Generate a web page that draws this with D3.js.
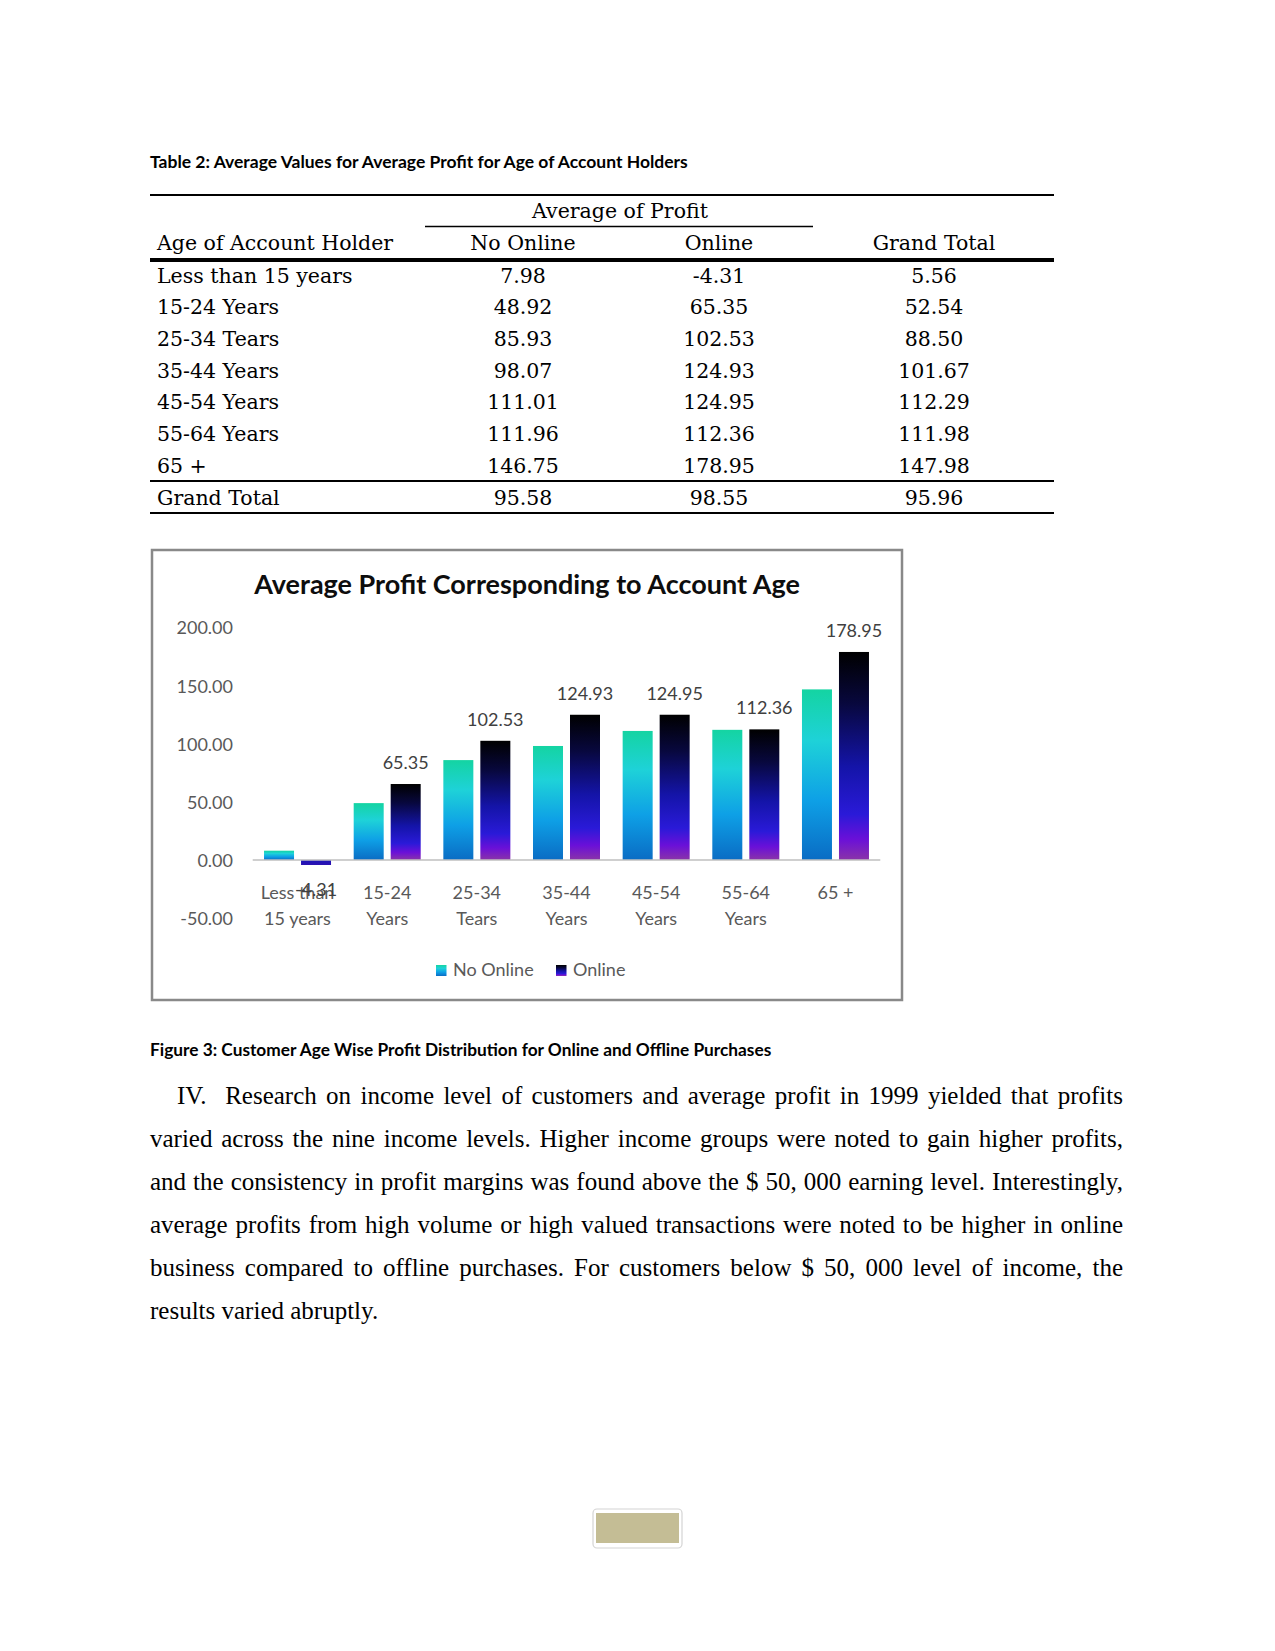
<!DOCTYPE html>
<html>
<head>
<meta charset="utf-8">
<script src="https://cdn.jsdelivr.net/npm/d3@7"></script>
<style>
  html, body { margin: 0; padding: 0; background: #fff; }
  #page { position: relative; width: 1275px; height: 1651px; overflow: hidden; }
  svg { position: absolute; left: 0; top: 0; }
  .para { position: absolute; left: 150px; top: 1074px; width: 973px;
          font-family: "Liberation Serif", "Times New Roman", serif; font-size: 25px;
          line-height: 43.1px; color: #000; }
  .para div { text-align: justify; text-align-last: justify; white-space: normal; }
  .para div.last { text-align-last: left; }
</style>
</head>
<body>
<div id="page"></div>
<script>
// --- data ---
const ageGroups = ['Less than 15 years', '15-24 Years', '25-34 Tears', '35-44 Years',
  '45-54 Years', '55-64 Years', '65 +'];
const noOnline = [7.98, 48.92, 85.93, 98.07, 111.01, 111.96, 146.75];
const online = [-4.31, 65.35, 102.53, 124.93, 124.95, 112.36, 178.95];
const grandTotal = [5.56, 52.54, 88.50, 101.67, 112.29, 111.98, 147.98];
const totalsRow = ['Grand Total', 95.58, 98.55, 95.96];

const chartLabels = [['Less than', '15 years'], ['15-24', 'Years'], ['25-34', 'Tears'],
  ['35-44', 'Years'], ['45-54', 'Years'], ['55-64', 'Years'], ['65 +']];
const seriesNames = ['No Online', 'Online'];
const yTicks = [-50, 0, 50, 100, 150, 200];

const paragraphLines = [
  'IV.\u00a0 Research on income level of customers and average profit in 1999 yielded that profits',
  'varied across the nine income levels. Higher income groups were noted to gain higher profits,',
  'and the consistency in profit margins was found above the $ 50, 000 earning level. Interestingly,',
  'average profits from high volume or high valued transactions were noted to be higher in online',
  'business compared to offline purchases. For customers below $ 50, 000 level of income, the',
  'results varied abruptly.'
];

const page = d3.select('#page');
const svg = page.append('svg').attr('width', 1275).attr('height', 1651);
// plain hyphen for negatives, like the source document
const fmt = d3.formatLocale({ decimal: '.', thousands: ',', grouping: [3],
  currency: ['$', ''], minus: '-' }).format('.2f');

// --- table caption ---
svg.append('text')
  .attr('x', 150).attr('y', 168)
  .attr('font-family', 'Lato, sans-serif').attr('font-weight', 700).attr('font-size', 17.5)
  .text('Table 2: Average Values for Average Profit for Age of Account Holders');

// --- table ---
const serif = '"DejaVu Serif", serif';
const tbl = svg.append('g').attr('font-family', serif).attr('font-size', 20.5).attr('fill', '#000');
const colX = [157, 523, 719, 934];
const rule = (y, w, x1 = 150, x2 = 1054) => tbl.append('line')
  .attr('x1', x1).attr('x2', x2).attr('y1', y).attr('y2', y)
  .attr('stroke', '#000').attr('stroke-width', w);

rule(195, 2);
tbl.append('text').attr('x', 620).attr('y', 218).attr('text-anchor', 'middle').text('Average of Profit');
rule(226.5, 1.5, 425, 813);
tbl.append('text').attr('x', colX[0]).attr('y', 250).text('Age of Account Holder');
['No Online', 'Online', 'Grand Total'].forEach((h, i) => {
  tbl.append('text').attr('x', colX[i + 1]).attr('y', 250).attr('text-anchor', 'middle').text(h);
});
rule(260, 4);

const rowY = d3.scaleLinear().domain([0, 6]).range([282.5, 472.5]);
ageGroups.forEach((g, i) => {
  const y = rowY(i);
  tbl.append('text').attr('x', colX[0]).attr('y', y).text(g);
  [noOnline[i], online[i], grandTotal[i]].forEach((v, j) => {
    tbl.append('text').attr('x', colX[j + 1]).attr('y', y).attr('text-anchor', 'middle').text(fmt(v));
  });
});
rule(481, 2);
tbl.append('text').attr('x', colX[0]).attr('y', 505).text(totalsRow[0]);
totalsRow.slice(1).forEach((v, j) => {
  tbl.append('text').attr('x', colX[j + 1]).attr('y', 505).attr('text-anchor', 'middle').text(fmt(v));
});
rule(513, 2);

// --- chart ---
const defs = svg.append('defs');
const grad = (id, stops) => {
  const g = defs.append('linearGradient').attr('id', id)
    .attr('x1', 0).attr('y1', 0).attr('x2', 0).attr('y2', 1);
  stops.forEach(([o, c]) => g.append('stop').attr('offset', o).attr('stop-color', c));
};
grad('gNo', [[0, '#14d4a2'], [0.3, '#1ed2d8'], [0.65, '#0ea0e6'], [1, '#0a6cc4']]);
grad('gOn', [[0, '#000000'], [0.25, '#08083e'], [0.55, '#1414a8'], [0.78, '#2a1ad8'],
  [0.9, '#6a10d8'], [1, '#8a34a8']]);
grad('gOnNeg', [[0, '#1c14b8'], [1, '#2a10b0']]);

svg.append('rect').attr('x', 152).attr('y', 550).attr('width', 750).attr('height', 450)
  .attr('fill', '#fff').attr('stroke', '#898989').attr('stroke-width', 2.5);

const chart = svg.append('g').attr('font-family', 'Lato, sans-serif');

chart.append('text').attr('x', 527).attr('y', 594).attr('text-anchor', 'middle')
  .attr('font-weight', 700).attr('font-size', 27).attr('fill', '#0d0d0d')
  .text('Average Profit Corresponding to Account Age');

const x = d3.scaleBand().domain(d3.range(chartLabels.length)).range([252.7, 880.3]);
const xs = d3.scaleBand().domain(seriesNames)
  .range([x.bandwidth() / 2 - 33.5, x.bandwidth() / 2 + 33.5]).paddingInner(7 / 37);
const y = d3.scaleLinear().domain([-50, 200]).range([918.1, 627.5]);

// y axis labels
const yAxis = chart.append('g').attr('transform', 'translate(233,0)')
  .call(d3.axisLeft(y).tickValues(yTicks).tickFormat(fmt).tickSize(0).tickPadding(0));
yAxis.select('.domain').remove();
yAxis.selectAll('text').attr('font-family', 'Lato, sans-serif').attr('font-size', 18)
  .attr('fill', '#595959').attr('dy', '0.36em');

// bars
const series = [
  { name: 'No Online', values: noOnline, fill: 'url(#gNo)' },
  { name: 'Online', values: online, fill: 'url(#gOn)' }
];
series.forEach(s => {
  chart.append('g').selectAll('rect').data(s.values).join('rect')
    .attr('x', (d, i) => x(i) + xs(s.name))
    .attr('width', xs.bandwidth())
    .attr('y', d => y(Math.max(0, d)))
    .attr('height', d => Math.abs(y(d) - y(0)))
    .attr('fill', d => d < 0 ? 'url(#gOnNeg)' : s.fill);
});

// zero line
chart.append('line').attr('x1', x.range()[0]).attr('x2', x.range()[1])
  .attr('y1', y(0)).attr('y2', y(0)).attr('stroke', '#bfbfbf').attr('stroke-width', 1.5);

// category labels
chartLabels.forEach((lines, i) => {
  lines.forEach((t, k) => {
    chart.append('text').attr('x', x(i) + x.bandwidth() / 2).attr('y', 899 + k * 26)
      .attr('text-anchor', 'middle').attr('font-size', 18).attr('fill', '#595959').text(t);
  });
});

// data labels (Online)
chart.append('g').selectAll('text').data(online).join('text')
  .attr('x', (d, i) => x(i) + xs('Online') + xs.bandwidth() / 2)
  .attr('y', d => d < 0 ? y(d) + 31 : y(d) - 15)
  .attr('text-anchor', 'middle').attr('font-size', 18).attr('fill', '#404040')
  .text(fmt);

// legend
const legend = chart.append('g');
[[436, 453, 'gNo'], [556, 573, 'gOn']].forEach(([sx, tx, g], i) => {
  legend.append('rect').attr('x', sx).attr('y', 965).attr('width', 10.5).attr('height', 11)
    .attr('fill', `url(#${g})`);
  legend.append('text').attr('x', tx).attr('y', 976).attr('font-size', 18)
    .attr('fill', '#595959').text(seriesNames[i]);
});

// --- figure caption ---
svg.append('text')
  .attr('x', 150).attr('y', 1056)
  .attr('font-family', 'Lato, sans-serif').attr('font-weight', 700).attr('font-size', 17.3)
  .text('Figure 3: Customer Age Wise Profit Distribution for Online and Offline Purchases');

// --- paragraph ---
const para = page.append('div').attr('class', 'para');
paragraphLines.forEach((t, i) => {
  para.append('div').attr('class', i === paragraphLines.length - 1 ? 'last' : null)
    .style('padding-left', i === 0 ? '27px' : null).text(t);
});

// --- page number box ---
svg.append('rect').attr('x', 593).attr('y', 1509).attr('width', 89).attr('height', 39).attr('rx', 4)
  .attr('fill', '#fff').attr('stroke', '#d4d4d4').attr('stroke-width', 1.2);
svg.append('rect').attr('x', 596).attr('y', 1513).attr('width', 83).attr('height', 30)
  .attr('fill', '#c4bd95');
</script>
</body>
</html>
